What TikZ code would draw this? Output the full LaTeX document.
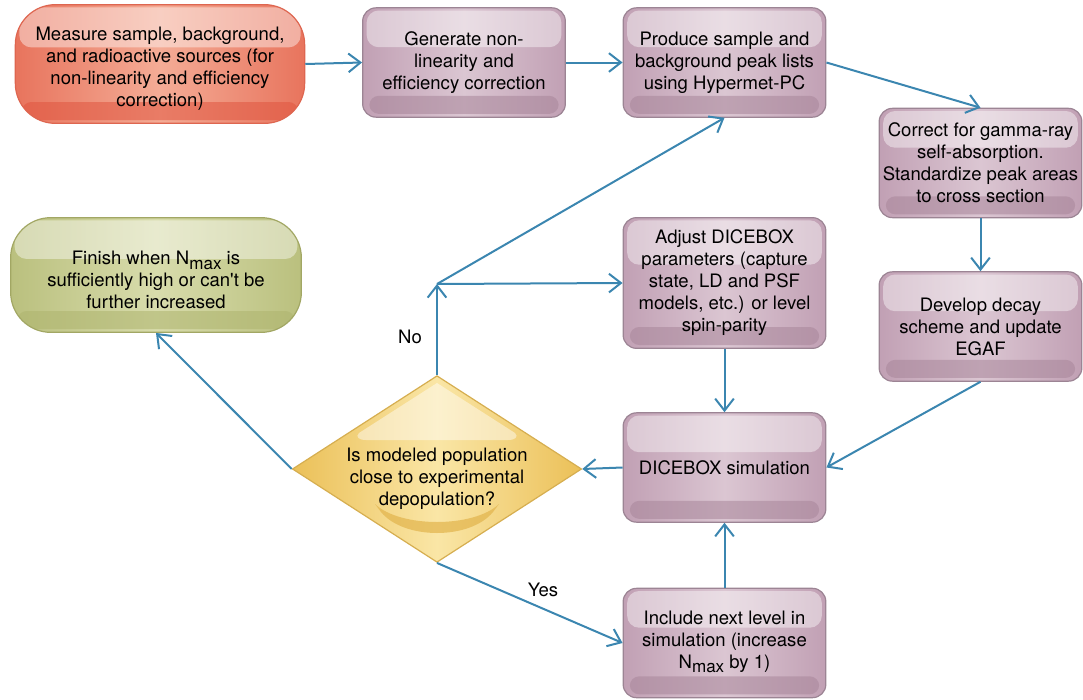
\documentclass[tikz,border=0pt]{standalone}
\usepackage{fontspec}
\setmainfont{TeX Gyre Heros}
\usetikzlibrary{arrows.meta,shapes.geometric,calc}
\definecolor{lineblue}{HTML}{3B86B0}
\definecolor{purA}{HTML}{C1A0B4}
\definecolor{purB}{HTML}{DBC6D2}
\definecolor{purE}{HTML}{9C8494}
\definecolor{purD}{HTML}{A8869A}
\definecolor{redA}{HTML}{E8745D}
\definecolor{redB}{HTML}{F4AC96}
\definecolor{redE}{HTML}{DE6650}
\definecolor{redD}{HTML}{E0553F}
\definecolor{grnA}{HTML}{BAC07E}
\definecolor{grnB}{HTML}{D8DCAC}
\definecolor{grnE}{HTML}{A2A764}
\definecolor{grnD}{HTML}{AEB46E}
\definecolor{yelA}{HTML}{EBC058}
\definecolor{yelB}{HTML}{FAE6A6}
\definecolor{yelE}{HTML}{D6AE50}
\definecolor{yelD}{HTML}{E2B44C}
\newcommand\Nmax{N\raisebox{-0.5ex}{\fontsize{12.8}{13}\selectfont max}}
\newcommand\shifttext[2]{\raisebox{#1}[\height][\depth]{\begin{tabular}{@{}c@{}}#2\end{tabular}}}
\tikzset{
  glass/.style={path picture={
    \fill[white,fill opacity=0.42,rounded corners=9pt]
      let \p1=(path picture bounding box.north west), \p2=(path picture bounding box.south east) in
      ({\x1+3pt},{\y1-2pt}) rectangle ({\x2-3pt},{\y1-0.36*(\y1-\y2)});
    \fill[#1,fill opacity=0.55,rounded corners=7pt]
      let \p1=(path picture bounding box.north west), \p2=(path picture bounding box.south east) in
      ({\x1+5pt},{\y2+2.5pt}) rectangle ({\x2-5pt},{\y2+16pt});
  }},
  txt/.style={font=\fontsize{13.9}{16.5}\selectfont, align=center, text=black},
  pbox/.style={txt, draw=purE, line width=0.9pt, rounded corners=10pt,
    left color=purA, right color=purA, middle color=purB,
    minimum width=152pt, minimum height=82pt, inner sep=0pt, glass=purD},
  rbox/.style={txt, draw=redE, line width=0.9pt, rounded corners=30pt,
    left color=redA, right color=redA, middle color=redB,
    minimum width=217pt, minimum height=89pt, inner sep=0pt, glass=redD},
  gbox/.style={txt, draw=grnE, line width=0.9pt, rounded corners=30pt,
    left color=grnA, right color=grnA, middle color=grnB,
    minimum width=218pt, minimum height=86pt, inner sep=0pt, glass=grnD},
  dec/.style={diamond, draw=yelE, line width=0.9pt, inner sep=0pt,
    left color=yelA, right color=yelA, middle color=yelB,
    minimum width=217pt, minimum height=140pt},
  conn/.style={draw=lineblue, line width=1.5pt, -{Straight Barb[length=9pt,width=14pt,line width=1.5pt]}},
  lbl/.style={txt}
}
\begin{document}
\begin{tikzpicture}[x=0.75pt,y=-0.75pt]
\useasboundingbox (0,0) rectangle (1083,700);

\node[rbox] (measure) at (160,64) {\shifttext{-3.5pt}{Measure sample, background,\\and radioactive sources (for\\non-linearity and efficiency\\correction)}};
\node[pbox] (generate) at (464,62.5) {Generate non-\\linearity and\\efficiency correction};
\node[pbox] (produce) at (724.5,62.5) {Produce sample and\\background peak lists\\using Hypermet-PC};
\node[pbox] (correct) at (980.5,163) {Correct for gamma-ray\\self-absorption.\\Standardize peak areas\\to cross section};
\node[pbox] (develop) at (980.5,326.5) {Develop decay\\scheme and update\\EGAF};
\node[pbox, minimum height=98pt] (adjust) at (724.5,283) {Adjust DICEBOX\\parameters (capture\\state, LD and PSF\\models, etc.) or level\\spin-parity};
\node[pbox] (dicebox) at (724.5,467.5) {DICEBOX simulation};
\node[pbox] (include) at (724.5,643) {\shifttext{1pt}{Include next level in\\simulation (increase\\\Nmax{} by 1)}};
\node[gbox] (finish) at (156,275) {\shifttext{-5.5pt}{Finish when \Nmax{} is\\sufficiently high or can\textquotesingle t be\\further increased}};

\node[dec] (decision) at (437,469) {};
\fill[white,opacity=0.45] (437,383) -- (515,433) .. controls (519,437) and (515,440) .. (508,440) -- (366,440) .. controls (359,440) and (355,437) .. (359,433) -- cycle;
\fill[yelD,opacity=0.7] (375,504) .. controls (400,528) and (474,528) .. (499,504) -- (493,512) .. controls (470,540) and (404,540) .. (381,512) -- cycle;
\node[txt] (dectext) at (437,479) {Is modeled population\\close to experimental\\depopulation?};

\coordinate (junc) at (437,284);

\draw[conn] (measure.east) -- (generate.west);
\draw[conn] (generate.east) -- (produce.west);
\draw[conn] (produce.east) -- (correct.north);
\draw[conn] (correct.south) -- (develop.north);
\draw[conn] (develop.south) -- (dicebox.east);
\draw[conn] (adjust.south) -- (dicebox.north);
\draw[conn] (include.north) -- (dicebox.south);
\draw[conn] (dicebox.west) -- (decision.east);
\draw[conn] (decision.west) -- (finish.south);
\draw[conn] (decision.north) -- (junc);
\draw[conn] (junc) -- (adjust.west);
\draw[conn] (junc) -- (produce.south);
\draw[conn] (decision.south) -- (include.west);

\node[lbl] (no) at (410,337) {No};
\node[lbl] (yes) at (543,590) {Yes};
\end{tikzpicture}
\end{document}
